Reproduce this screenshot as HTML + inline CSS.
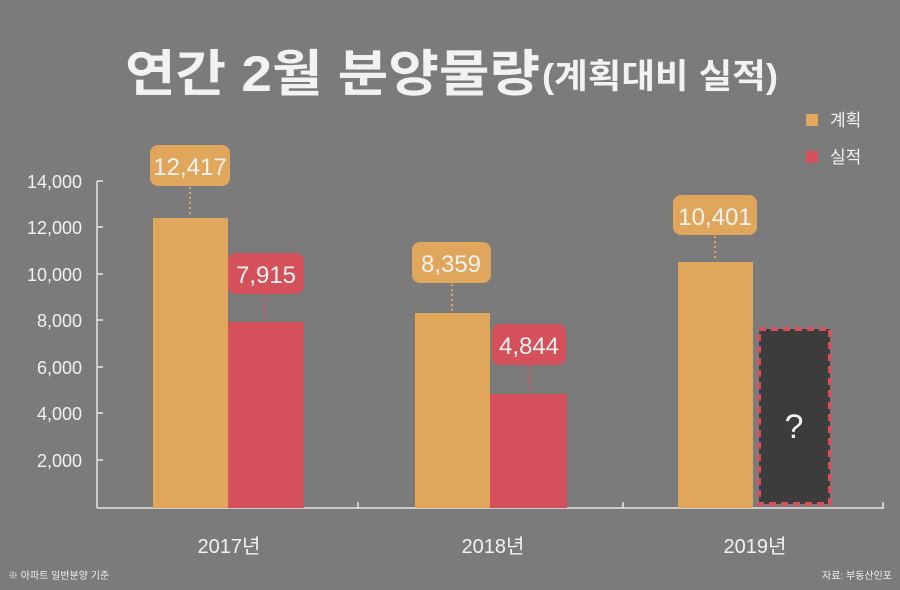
<!DOCTYPE html>
<html><head><meta charset="utf-8"><style>
html,body{margin:0;padding:0;background:#7b7b7b;}
svg{display:block;}
text{font-family:"Liberation Sans","Noto Sans CJK KR",sans-serif;fill:#f2f2f2;}
</style></head><body>
<svg width="900" height="590" viewBox="0 0 900 590" xmlns="http://www.w3.org/2000/svg">
<rect width="900" height="590" fill="#7b7b7b"/>
<text x="125" y="91" font-size="50" font-weight="bold" textLength="415" lengthAdjust="spacingAndGlyphs" fill="#f4f4f4">연간 2월 분양물량</text>
<text x="542" y="88" font-size="34" font-weight="bold" textLength="236" lengthAdjust="spacingAndGlyphs" fill="#f4f4f4">(계획대비 실적)</text>
<!-- legend -->
<rect x="806" y="114" width="12" height="12" fill="#e0a65c"/>
<text x="830" y="126" font-size="17">계획</text>
<rect x="806" y="151" width="12" height="12" fill="#d4505a"/>
<text x="830" y="163" font-size="17">실적</text>
<!-- axes -->
<g stroke="#e6e6e6" stroke-width="1.5" fill="none">
<line x1="97" y1="181" x2="97" y2="508"/>
<line x1="97" y1="508" x2="884" y2="508"/>
<line x1="97" y1="181" x2="103" y2="181"/>
<line x1="97" y1="227" x2="103" y2="227"/>
<line x1="97" y1="274" x2="103" y2="274"/>
<line x1="97" y1="320" x2="103" y2="320"/>
<line x1="97" y1="367" x2="103" y2="367"/>
<line x1="97" y1="413" x2="103" y2="413"/>
<line x1="97" y1="460" x2="103" y2="460"/>
<line x1="358" y1="502" x2="358" y2="508"/>
<line x1="623" y1="502" x2="623" y2="508"/>
<line x1="883" y1="502" x2="883" y2="508"/>
</g>
<g font-size="18" text-anchor="end">
<text x="82" y="188">14,000</text>
<text x="82" y="234">12,000</text>
<text x="82" y="281">10,000</text>
<text x="82" y="327">8,000</text>
<text x="82" y="374">6,000</text>
<text x="82" y="420">4,000</text>
<text x="82" y="467">2,000</text>
</g>
<!-- bars -->
<rect x="153" y="218" width="75" height="290" fill="#e0a65c"/>
<rect x="228" y="322" width="76" height="186" fill="#d4505a"/>
<rect x="415" y="313" width="75" height="195" fill="#e0a65c"/>
<rect x="490" y="394" width="77" height="114" fill="#d4505a"/>
<rect x="678" y="262" width="75" height="246" fill="#e0a65c"/>
<rect x="759" y="329" width="71" height="175" fill="#3c3c3c" stroke="#d4505a" stroke-width="4" stroke-dasharray="7,5"/>
<text x="794" y="438" font-size="34" text-anchor="middle">?</text>
<!-- connectors -->
<g stroke-width="2" stroke-dasharray="2,3">
<line x1="190" y1="187" x2="190" y2="216" stroke="#e0a65c"/>
<line x1="265" y1="295" x2="265" y2="320" stroke="#d4505a"/>
<line x1="452" y1="284" x2="452" y2="311" stroke="#e0a65c"/>
<line x1="529" y1="366" x2="529" y2="392" stroke="#d4505a"/>
<line x1="715" y1="236" x2="715" y2="260" stroke="#e0a65c"/>
</g>
<!-- labels -->
<rect x="150" y="145" width="80" height="41" rx="8" fill="#e0a65c"/>
<text x="190" y="175" font-size="24" text-anchor="middle">12,417</text>
<rect x="228" y="253" width="76" height="41" rx="8" fill="#d4505a"/>
<text x="266" y="283" font-size="24" text-anchor="middle">7,915</text>
<rect x="412" y="242" width="79" height="41" rx="8" fill="#e0a65c"/>
<text x="451" y="272" font-size="24" text-anchor="middle">8,359</text>
<rect x="492" y="324" width="74" height="41" rx="8" fill="#d4505a"/>
<text x="529" y="354" font-size="24" text-anchor="middle">4,844</text>
<rect x="673" y="195" width="84" height="40" rx="8" fill="#e0a65c"/>
<text x="715" y="225" font-size="24" text-anchor="middle">10,401</text>
<!-- x labels -->
<g font-size="20" text-anchor="middle">
<text x="229" y="553">2017년</text>
<text x="493" y="553">2018년</text>
<text x="755" y="553">2019년</text>
</g>
<text x="8" y="579" font-size="10">※ 아파트 일반분양 기준</text>
<text x="892" y="579" font-size="10" text-anchor="end">자료: 부동산인포</text>
</svg>
</body></html>
